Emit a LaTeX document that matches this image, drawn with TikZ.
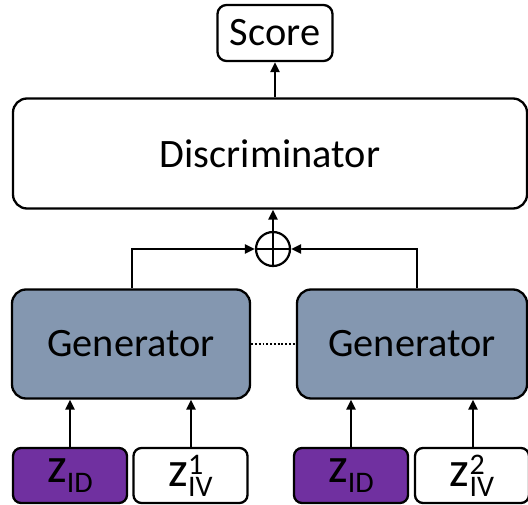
\documentclass[tikz,border=0pt]{standalone}
\usepackage{fontspec}
\setmainfont{Carlito}
\usetikzlibrary{arrows.meta}

\definecolor{genblue}{HTML}{8497B0}
\definecolor{idpurple}{HTML}{7030A0}

\tikzset{
  blockbox/.style={draw, line width=2.3bp, rounded corners=14bp, inner sep=0pt,
    font=\fontsize{40.5}{44}\selectfont},
  genbox/.style={blockbox, fill=genblue, minimum height=109bp},
  latentbox/.style={draw, line width=2.3bp, rounded corners=8bp, inner sep=0pt,
    minimum width=114bp, minimum height=55bp},
  flow/.style={line width=2.2bp, -{Triangle[length=10bp,width=9bp]}},
}

% z with a sub- and superscript stacked
\newcommand{\zlatent}[2]{{\fontsize{50}{52}\selectfont z}\makebox[0pt][l]{\raisebox{12bp}{\fontsize{30}{32}\selectfont #1}}\raisebox{-10bp}{\fontsize{30}{32}\selectfont #2}}

\begin{document}
\begin{tikzpicture}[x=1bp, y=-1bp]
        \useasboundingbox (0, 0) rectangle (528, 505);
        \node[blockbox, minimum width=115bp, minimum height=56bp, rounded corners=9bp] (score) at (275, 33) {Score};
        \node[blockbox, minimum width=514bp, minimum height=110bp] (disc) at (270, 153.5) {Discriminator};
        \node[circle, draw, line width=2.2bp, minimum size=34bp, inner sep=0pt] (sum) at (273, 249) {};
        \draw[line width=2.2bp] (sum.north) -- (sum.south) (sum.west) -- (sum.east);
        \node[genbox, minimum width=238bp] (genA) at (131, 344) {Generator};
        \node[genbox, minimum width=230bp] (genB) at (412, 344) {Generator};
        \node[latentbox, fill=idpurple] (idA) at (70, 475.5) {\zlatent{}{ID}};
        \node[latentbox] (ivA) at (190.5, 475.5) {\zlatent{1}{IV}};
        \node[latentbox, fill=idpurple] (idB) at (351, 475.5) {\zlatent{}{ID}};
        \node[latentbox] (ivB) at (472, 475.5) {\zlatent{2}{IV}};
        \draw[line width=1.8bp, dotted] (genA) -- (genB);
        \draw[flow] (disc.north -| score) -- (score);
        \draw[flow] (sum) -- (disc.south -| sum);
        \draw[flow] (genA.north -| 132, 0) |- (sum);
        \draw[flow] (genB.north -| 417, 0) |- (sum);
        \draw[flow] (idA) -- (genA.south -| idA);
        \draw[flow] (ivA.north -| 191, 0) -- (genA.south -| 191, 0);
        \draw[flow] (idB) -- (genB.south -| idB);
        \draw[flow] (ivB.north -| 473, 0) -- (genB.south -| 473, 0);
\end{tikzpicture}
\end{document}
